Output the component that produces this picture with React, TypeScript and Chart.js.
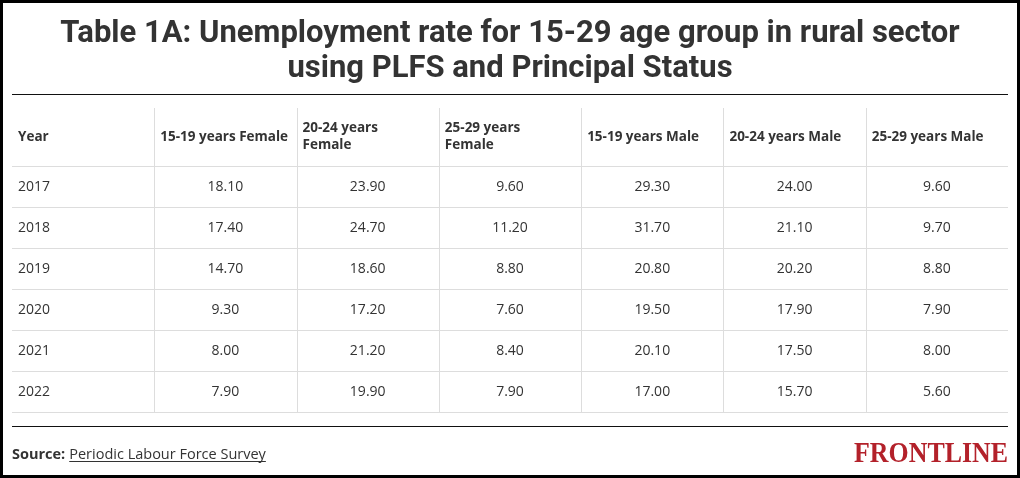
import React, { useEffect, useRef } from 'react';
import { Chart, registerables } from 'chart.js';

Chart.register(...registerables);

const titleLines = [
  'Table 1A: Unemployment rate for 15-29 age group in rural sector',
  'using PLFS and Principal Status',
];

const years = ['2017', '2018', '2019', '2020', '2021', '2022'];

const columnHeaders = [
  ['Year'],
  ['15-19 years Female'],
  ['20-24 years', 'Female'],
  ['25-29 years', 'Female'],
  ['15-19 years Male'],
  ['20-24 years Male'],
  ['25-29 years Male'],
];

const female1519 = [18.1, 17.4, 14.7, 9.3, 8.0, 7.9];
const female2024 = [23.9, 24.7, 18.6, 17.2, 21.2, 19.9];
const female2529 = [9.6, 11.2, 8.8, 7.6, 8.4, 7.9];
const male1519 = [29.3, 31.7, 20.8, 19.5, 20.1, 17.0];
const male2024 = [24.0, 21.1, 20.2, 17.9, 17.5, 15.7];
const male2529 = [9.6, 9.7, 8.8, 7.9, 8.0, 5.6];

const seriesValues = [female1519, female2024, female2529, male1519, male2024, male2529];

const sourceLabel = 'Source:';
const sourceText = 'Periodic Labour Force Survey';
const brandText = 'FRONTLINE';

const HEADER_ROWS = 58 / 41;
const TEXT_COLOR = '#333333';
const GRID_COLOR = '#dddddd';

const tablePlugin = {
  id: 'tableRenderer',
  beforeDraw(chart: any) {
    const ctx = chart.ctx;
    ctx.save();
    ctx.fillStyle = '#ffffff';
    ctx.fillRect(0, 0, chart.width, chart.height);
    ctx.restore();
  },
  afterDraw(chart: any) {
    const ctx = chart.ctx;
    const xs = chart.scales.x;
    const ys = chart.scales.y;
    const area = chart.chartArea;
    ctx.save();

    // frame
    ctx.strokeStyle = '#000000';
    ctx.lineWidth = 3;
    ctx.strokeRect(1.5, 1.5, chart.width - 3, chart.height - 3);

    // title
    ctx.fillStyle = TEXT_COLOR;
    ctx.textAlign = 'center';
    ctx.textBaseline = 'alphabetic';
    ctx.font = '700 31px Roboto';
    const w1 = ctx.measureText(titleLines[0]).width;
    const ratio = Math.min(1, 912 / w1);
    const cx = (area.left + area.right) / 2;
    ctx.fillText(titleLines[0], cx, 42, w1 * ratio);
    const w2 = ctx.measureText(titleLines[1]).width;
    ctx.fillText(titleLines[1], cx, 77, w2 * ratio);

    // top and bottom rules
    ctx.strokeStyle = '#111111';
    ctx.lineWidth = 1;
    ctx.beginPath();
    ctx.moveTo(area.left, 94.5);
    ctx.lineTo(area.right, 94.5);
    ctx.moveTo(area.left, 426.5);
    ctx.lineTo(area.right, 426.5);
    ctx.stroke();

    // grid: vertical
    ctx.strokeStyle = GRID_COLOR;
    ctx.beginPath();
    for (let c = 1; c < columnHeaders.length; c++) {
      const px = Math.round(xs.getPixelForValue(c)) + 0.5;
      ctx.moveTo(px, ys.getPixelForValue(-HEADER_ROWS));
      ctx.lineTo(px, ys.getPixelForValue(years.length));
    }
    // grid: horizontal
    for (let r = 0; r <= years.length; r++) {
      const py = Math.round(ys.getPixelForValue(r)) + 0.5;
      ctx.moveTo(xs.getPixelForValue(0), py);
      ctx.lineTo(xs.getPixelForValue(columnHeaders.length), py);
    }
    ctx.stroke();

    // header
    ctx.fillStyle = TEXT_COLOR;
    ctx.textAlign = 'left';
    ctx.textBaseline = 'middle';
    ctx.font = '700 13.5px "Open Sans"';
    const hy = ys.getPixelForValue(-HEADER_ROWS / 2);
    columnHeaders.forEach((lines, c) => {
      const hx = xs.getPixelForValue(c) + 6;
      const lh = 17;
      const start = hy - ((lines.length - 1) * lh) / 2;
      lines.forEach((ln, i) => ctx.fillText(ln, hx, start + i * lh));
    });

    // cells from dataset elements
    ctx.font = '400 14px "Open Sans"';
    chart.data.datasets.forEach((ds: any, di: number) => {
      const meta = chart.getDatasetMeta(di);
      meta.data.forEach((el: any, i: number) => {
        const label = ds.cellText[i];
        if (di === 0) {
          ctx.textAlign = 'left';
          ctx.fillText(label, el.x + 6, el.y + 1);
        } else {
          ctx.textAlign = 'center';
          ctx.fillText(label, el.x, el.y + 1);
        }
      });
    });

    // source
    ctx.textAlign = 'left';
    ctx.textBaseline = 'alphabetic';
    ctx.fillStyle = TEXT_COLOR;
    ctx.font = '700 14.5px "Open Sans"';
    const sx = area.left;
    const sy = 459;
    ctx.fillText(sourceLabel, sx, sy);
    const lw = ctx.measureText(sourceLabel).width;
    ctx.font = '400 14.5px "Open Sans"';
    const tx = sx + lw + 4;
    ctx.fillText(sourceText, tx, sy);
    const tw = ctx.measureText(sourceText).width;
    ctx.strokeStyle = TEXT_COLOR;
    ctx.lineWidth = 1;
    ctx.beginPath();
    ctx.moveTo(tx, sy + 2.5);
    ctx.lineTo(tx + tw, sy + 2.5);
    ctx.stroke();

    // brand
    ctx.textAlign = 'right';
    ctx.fillStyle = '#b3212a';
    ctx.font = '700 30px "Liberation Serif"';
    const bw = ctx.measureText(brandText).width;
    ctx.fillText(brandText, area.right, 461.5, Math.min(bw, 154));

    ctx.restore();
  },
};

export default function App() {
  const canvasRef = useRef<HTMLCanvasElement | null>(null);

  useEffect(() => {
    document.body.style.margin = '0';
    const canvas = canvasRef.current;
    if (!canvas) return;

    const datasets: any[] = [
      {
        label: 'Year',
        data: years.map((_, i) => ({ x: 0, y: i + 0.5 })),
        cellText: years,
        pointRadius: 0,
      },
      ...seriesValues.map((vals, c) => ({
        label: columnHeaders[c + 1].join(' '),
        data: vals.map((v, i) => ({ x: c + 1.5, y: i + 0.5, v })),
        cellText: vals.map((v) => v.toFixed(2)),
        pointRadius: 0,
      })),
    ];

    const chart = new Chart(canvas, {
      type: 'scatter',
      data: { datasets },
      options: {
        responsive: false,
        animation: false,
        events: [],
        layout: { padding: { left: 12, right: 12, top: 108, bottom: 66 } },
        plugins: {
          legend: { display: false },
          tooltip: { enabled: false },
          title: { display: false },
        },
        scales: {
          x: { type: 'linear', display: false, min: 0, max: columnHeaders.length },
          y: { type: 'linear', display: false, reverse: true, min: -HEADER_ROWS, max: years.length },
        },
      } as any,
      plugins: [tablePlugin],
    });

    return () => chart.destroy();
  }, []);

  return (
    <div style={{ width: 1020, height: 478 }}>
      <canvas ref={canvasRef} width={1020} height={478} />
    </div>
  );
}
